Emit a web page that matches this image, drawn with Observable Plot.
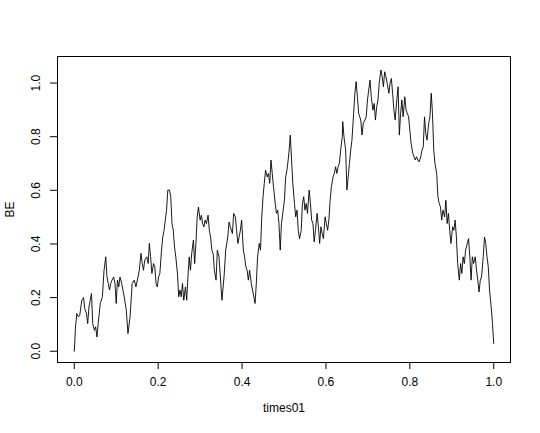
<!DOCTYPE html>
<html>
<head>
<meta charset="utf-8">
<script src="https://cdn.jsdelivr.net/npm/d3@7"></script>
<script src="https://cdn.jsdelivr.net/npm/@observablehq/plot@0.6"></script>
<style>
  html, body { margin: 0; padding: 0; background: #fff; }
  #chart { width: 540px; height: 433px; }
</style>
</head>
<body>
<div id="chart"></div>
<script>
const times01 = [0.000,0.003,0.006,0.010,0.013,0.018,0.022,0.025,0.029,0.032,0.035,0.038,0.041,0.044,0.048,0.051,0.054,0.057,0.062,0.067,0.071,0.075,0.078,0.081,0.084,0.087,0.090,0.094,0.097,0.100,0.103,0.106,0.109,0.113,0.116,0.119,0.124,0.128,0.133,0.138,0.143,0.147,0.152,0.155,0.159,0.162,0.165,0.168,0.173,0.176,0.179,0.182,0.185,0.189,0.192,0.195,0.198,0.201,0.204,0.208,0.211,0.214,0.217,0.220,0.223,0.227,0.230,0.233,0.236,0.239,0.242,0.246,0.249,0.252,0.255,0.258,0.261,0.265,0.268,0.271,0.274,0.277,0.280,0.284,0.287,0.290,0.293,0.296,0.300,0.303,0.306,0.309,0.312,0.315,0.319,0.322,0.325,0.328,0.331,0.334,0.338,0.341,0.345,0.352,0.357,0.361,0.366,0.369,0.372,0.377,0.380,0.384,0.387,0.390,0.393,0.396,0.399,0.403,0.406,0.409,0.412,0.415,0.418,0.422,0.425,0.428,0.431,0.434,0.437,0.441,0.444,0.447,0.450,0.453,0.456,0.460,0.463,0.466,0.469,0.472,0.475,0.479,0.482,0.485,0.488,0.491,0.494,0.498,0.501,0.504,0.507,0.510,0.513,0.515,0.518,0.521,0.525,0.528,0.531,0.534,0.537,0.541,0.544,0.547,0.550,0.553,0.556,0.560,0.563,0.566,0.569,0.572,0.575,0.579,0.582,0.585,0.588,0.591,0.594,0.598,0.601,0.604,0.607,0.610,0.613,0.617,0.620,0.623,0.626,0.629,0.632,0.636,0.639,0.640,0.643,0.647,0.650,0.653,0.656,0.659,0.662,0.666,0.669,0.672,0.675,0.678,0.683,0.686,0.689,0.693,0.696,0.699,0.702,0.705,0.708,0.712,0.715,0.718,0.721,0.724,0.727,0.731,0.734,0.737,0.740,0.743,0.746,0.750,0.753,0.756,0.759,0.762,0.765,0.769,0.772,0.775,0.778,0.781,0.784,0.788,0.791,0.794,0.797,0.800,0.803,0.807,0.810,0.813,0.816,0.819,0.822,0.826,0.829,0.832,0.835,0.838,0.841,0.845,0.848,0.851,0.854,0.857,0.860,0.864,0.867,0.870,0.873,0.876,0.879,0.883,0.886,0.889,0.892,0.895,0.898,0.902,0.905,0.908,0.911,0.914,0.918,0.921,0.924,0.927,0.930,0.933,0.937,0.940,0.943,0.946,0.949,0.952,0.956,0.959,0.962,0.965,0.968,0.971,0.975,0.978,0.981,0.984,0.987,0.990,0.994,0.997,1.000];
const BE = [0.000,0.091,0.141,0.128,0.134,0.190,0.200,0.159,0.141,0.103,0.165,0.190,0.215,0.103,0.078,0.091,0.053,0.103,0.178,0.203,0.302,0.352,0.277,0.253,0.228,0.253,0.265,0.277,0.253,0.178,0.265,0.240,0.277,0.253,0.228,0.203,0.153,0.066,0.128,0.253,0.265,0.240,0.277,0.302,0.365,0.327,0.302,0.340,0.352,0.327,0.402,0.352,0.290,0.327,0.315,0.253,0.240,0.277,0.290,0.377,0.426,0.451,0.489,0.526,0.601,0.601,0.576,0.476,0.451,0.389,0.352,0.290,0.203,0.228,0.203,0.253,0.190,0.240,0.190,0.277,0.352,0.302,0.365,0.414,0.327,0.402,0.501,0.538,0.489,0.507,0.476,0.464,0.489,0.476,0.507,0.451,0.426,0.377,0.365,0.302,0.265,0.377,0.352,0.190,0.277,0.377,0.426,0.482,0.464,0.439,0.514,0.501,0.451,0.402,0.426,0.451,0.489,0.377,0.352,0.315,0.302,0.265,0.302,0.253,0.228,0.203,0.178,0.253,0.352,0.402,0.377,0.501,0.576,0.626,0.675,0.650,0.663,0.626,0.713,0.663,0.613,0.551,0.514,0.526,0.476,0.377,0.476,0.526,0.563,0.650,0.675,0.713,0.762,0.806,0.713,0.626,0.551,0.501,0.526,0.451,0.420,0.451,0.551,0.576,0.526,0.551,0.514,0.601,0.551,0.489,0.476,0.408,0.451,0.514,0.464,0.402,0.464,0.439,0.420,0.501,0.476,0.451,0.489,0.563,0.613,0.650,0.663,0.688,0.663,0.688,0.700,0.762,0.800,0.856,0.800,0.750,0.601,0.650,0.700,0.750,0.787,0.887,0.962,1.005,0.949,0.887,0.862,0.806,0.850,0.862,0.874,0.937,0.974,1.011,0.949,0.899,0.924,0.862,0.912,0.937,0.999,1.049,1.024,0.986,1.042,1.024,0.999,0.962,0.999,1.017,0.962,0.899,0.862,0.937,0.986,0.806,0.887,0.937,0.874,0.949,0.899,0.887,0.874,0.825,0.775,0.738,0.725,0.713,0.725,0.713,0.706,0.725,0.750,0.762,0.874,0.812,0.787,0.850,0.874,0.962,0.887,0.750,0.700,0.663,0.576,0.551,0.538,0.489,0.526,0.501,0.563,0.476,0.514,0.451,0.402,0.464,0.451,0.489,0.426,0.327,0.265,0.327,0.290,0.352,0.327,0.377,0.402,0.420,0.352,0.265,0.352,0.327,0.352,0.302,0.265,0.221,0.265,0.277,0.352,0.426,0.402,0.352,0.315,0.228,0.165,0.103,0.029];
const xTicks = [0, 0.2, 0.4, 0.6, 0.8, 1.0];
const yTicks = [0, 0.2, 0.4, 0.6, 0.8, 1.0];
const xLabel = "times01";
const yLabel = "BE";

const data = times01.map((t, i) => ({t, v: BE[i]}));
const font = "Liberation Sans, Arial, sans-serif";

const chart = Plot.plot({
  width: 540,
  height: 433,
  marginTop: 56,
  marginRight: 30,
  marginBottom: 71,
  marginLeft: 57,
  style: {fontFamily: font, fontSize: "12px", color: "#000", background: "#fff"},
  x: {domain: [-0.04, 1.04], axis: null},
  y: {domain: [-0.042, 1.099], axis: null},
  marks: [
    Plot.frame({stroke: "#000", strokeWidth: 1}),
    Plot.line(data, {x: "t", y: "v", stroke: "#000", strokeWidth: 0.9}),
    Plot.axisX(xTicks, {anchor: "bottom", label: null, tickSize: 7, tickPadding: 8, tickFormat: d => d.toFixed(1), fontSize: 12, stroke: "#000", color: "#000"}),
    Plot.axisY(yTicks, {anchor: "left", label: null, tickSize: 7, tickFormat: () => "", stroke: "#000"}),
    Plot.text(yTicks, {y: d => d, text: d => d.toFixed(1), frameAnchor: "left", dx: -21, rotate: -90, textAnchor: "middle", fontSize: 12, fill: "#000"}),
    Plot.text([yLabel], {frameAnchor: "left", dx: -47, rotate: -90, textAnchor: "middle", fontSize: 12, fill: "#000"}),
    Plot.text([xLabel], {frameAnchor: "bottom", dy: 49, textAnchor: "middle", fontSize: 12, fill: "#000"})
  ]
});
document.getElementById("chart").appendChild(chart);
</script>
</body>
</html>
